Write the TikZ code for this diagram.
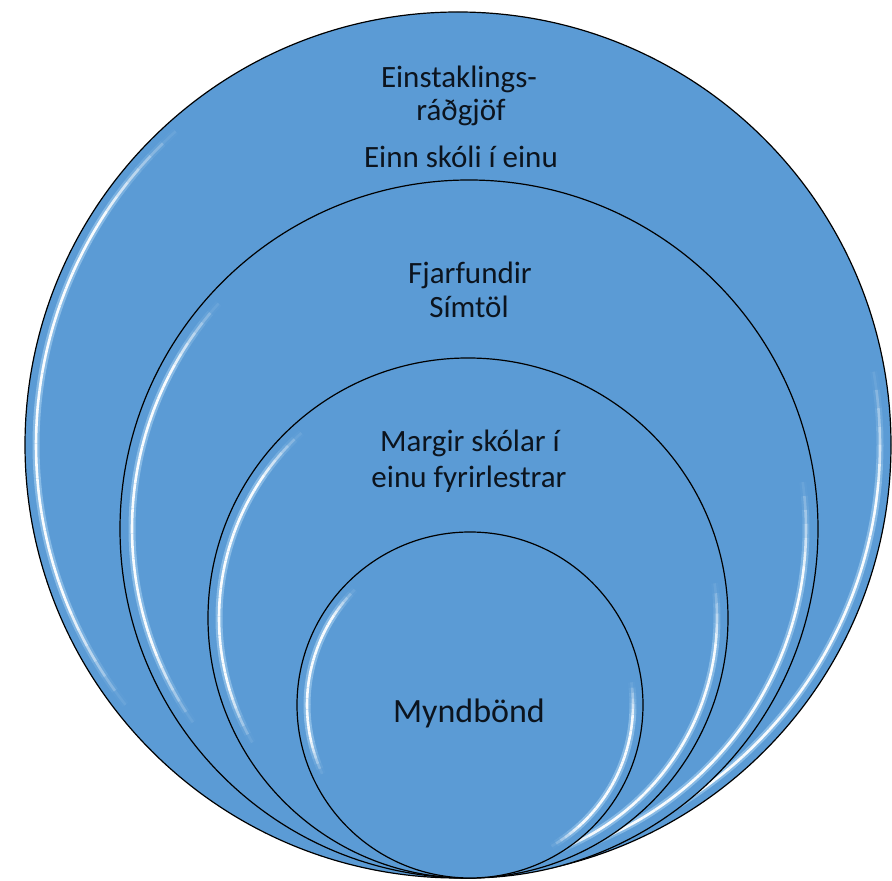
\documentclass[tikz,border=0pt]{standalone}
\usepackage{fontspec}
\setmainfont{Carlito}
\usetikzlibrary{calc}
\definecolor{ringblue}{RGB}{91,155,213}
\definecolor{glowblue}{RGB}{190,225,250}
\definecolor{inktext}{RGB}{12,20,30}
\tikzset{
  ring/.style={circle, draw=black, line width=1.2pt, fill=ringblue, inner sep=0pt, minimum size=#1},
  lbl/.style={anchor=base, text=inktext, font=\fontsize{31}{37}\selectfont, inner sep=0pt},
  biglbl/.style={anchor=base, text=inktext, font=\fontsize{34}{40}\selectfont, inner sep=0pt}
}
\newcommand\glossarc[4]{%
  \foreach \i in {0,...,35}{%
    \pgfmathsetmacro\aa{#3+(#4-#3)*\i/36}%
    \pgfmathsetmacro\bb{#3+(#4-#3)*(\i+1)/36}%
    \pgfmathsetmacro\op{min(1,1.8*sin(180*(\i+0.5)/36))}%
    \draw[glowblue, line width=7pt, opacity=0.45*\op] ($(#1)+(\aa:#2)$) arc[start angle=\aa, end angle=\bb, radius=#2];
    \draw[white, line width=2.6pt, opacity=0.95*\op] ($(#1)+(\aa:#2)$) arc[start angle=\aa, end angle=\bb, radius=#2];
  }}
\begin{document}
\begin{tikzpicture}[x=1pt,y=1pt]
  \useasboundingbox (0,0) rectangle (892,881);
  % outer
  \node[ring=866pt] (c1) at (458,436) {};
  \glossarc{c1.center}{422pt}{132}{218}
  \glossarc{c1.center}{422pt}{10}{-80}
  % second
  \node[ring=698pt] (c2) at (469,352) {};
  \glossarc{c2.center}{337pt}{138}{215}
  \glossarc{c2.center}{337pt}{8}{-78}
  % third
  \node[ring=520pt] (c3) at (468,263) {};
  \glossarc{c3.center}{249pt}{132}{210}
  \glossarc{c3.center}{249pt}{8}{-75}
  % inner
  \node[ring=346pt] (c4) at (470,176) {};
  \glossarc{c4.center}{163pt}{135}{205}
  \glossarc{c4.center}{163pt}{8}{-60}
  % texts
  \node[lbl] (t1) at (459,793) {Einstaklings-};
  \node[lbl] (t2) at (461,760) {ráðgjöf};
  \node[lbl] (t3) at (461,713) {Einn skóli í einu};
  \node[lbl] (t4) at (470,597) {Fjarfundir};
  \node[lbl] (t5) at (469,563) {Símtöl};
  \node[lbl] (t6) at (470,429) {Margir skólar í};
  \node[lbl] (t7) at (469,393) {einu fyrirlestrar};
  \node[biglbl] (t8) at (469,158) {Myndbönd};
\end{tikzpicture}
\end{document}
